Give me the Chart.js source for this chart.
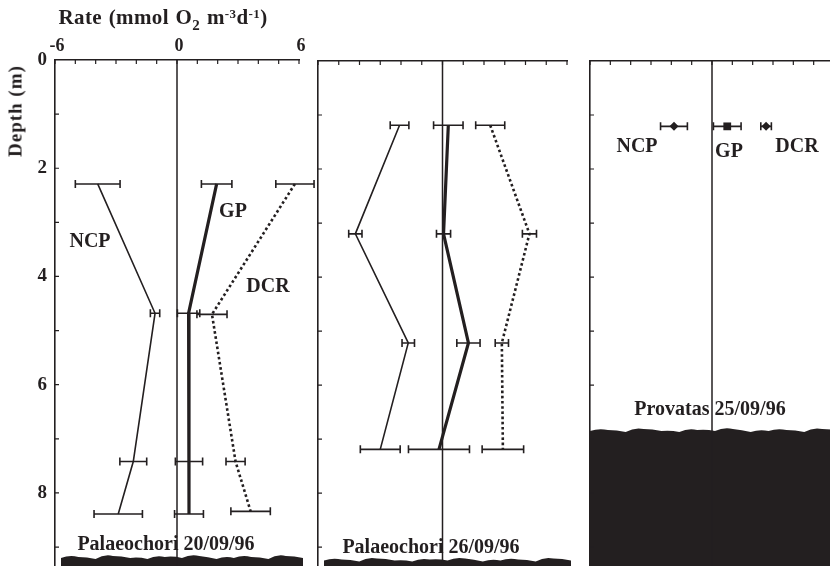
<!DOCTYPE html>
<html>
<head>
<meta charset="utf-8">
<script src="https://cdn.jsdelivr.net/npm/chart.js@4.4.0/dist/chart.umd.min.js"></script>
<style>
  body { margin: 0; width: 830px; height: 566px; overflow: hidden; background: #fff; position: relative;
         font-family: "Liberation Serif", serif; font-weight: bold; color: #231f20; }
  canvas { position: absolute; top: 0; }
  .lbl { position: absolute; font-size: 20px; line-height: 1; white-space: nowrap; transform: translate(-50%, -50%); }
  #title { font-size: 21px; letter-spacing: 0.4px; word-spacing: 1px; }
  #title sub { font-size: 15px; vertical-align: -6px; }
  #title sup { font-size: 13px; vertical-align: 6px; }
  #depth { font-size: 19px; letter-spacing: 1px; transform: translate(-50%, -50%) rotate(-90deg); }
</style>
</head>
<body>
<canvas id="p20" width="320" height="566" style="left:0px"></canvas>
<canvas id="p26" width="290" height="566" style="left:300px"></canvas>
<canvas id="prov" width="260" height="566" style="left:580px"></canvas>

<div class="lbl" id="title" style="left:163px; top:20px">Rate (mmol O<sub>2</sub> m<sup>-3</sup>d<sup>-1</sup>)</div>
<div class="lbl" id="depth" style="left:15px; top:111px">Depth (m)</div>

<div class="lbl" style="left:90px; top:240px">NCP</div>
<div class="lbl" style="left:233px; top:210px">GP</div>
<div class="lbl" style="left:268px; top:285px">DCR</div>
<div class="lbl" style="left:166px; top:543px">Palaeochori 20/09/96</div>

<div class="lbl" style="left:431px; top:546px">Palaeochori 26/09/96</div>

<div class="lbl" style="left:637px; top:145px">NCP</div>
<div class="lbl" style="left:729px; top:150px">GP</div>
<div class="lbl" style="left:797px; top:145px">DCR</div>
<div class="lbl" style="left:710px; top:408px">Provatas 25/09/96</div>

<script>
// Palaeochori 20/09/96
const depthP20 = [2.29, 4.68, 7.42, 8.39];
const ncpP20 = [-3.9, -1.08, -2.15, -2.89];
const ncpErrP20 = [1.1, 0.23, 0.66, 1.19];
const gpP20 = [1.95, 0.57, 0.59, 0.59];
const gpErrP20 = [0.75, 0.55, 0.67, 0.71];
const dcrDepthP20 = [2.29, 4.7, 7.42, 8.34];
const dcrP20 = [5.8, 1.72, 2.88, 3.62];
const dcrErrP20 = [0.94, 0.74, 0.47, 0.97];

// Palaeochori 26/09/96
const depthP26 = [1.19, 3.2, 5.22, 7.19];
const ncpP26 = [-2.07, -4.2, -1.65, -3.0];
const ncpErrP26 = [0.45, 0.32, 0.3, 0.96];
const gpP26 = [0.28, 0.05, 1.25, -0.17];
const gpErrP26 = [0.71, 0.34, 0.56, 1.47];
const dcrP26 = [2.3, 4.19, 2.86, 2.91];
const dcrErrP26 = [0.7, 0.34, 0.32, 1.0];

// Provatas 25/09/96
const depthProv = [1.21];
const ncpProv = [-1.87];
const ncpErrProv = [0.66];
const gpProv = [0.75];
const gpErrProv = [0.68];
const dcrProv = [2.66];
const dcrErrProv = [0.26];

// depth of the sea bottom at each station
const seabedP20 = 9.2;
const seabedP26 = 9.25;
const seabedProv = 6.85;

const rateTicks = [-6, 0, 6];
const depthTicks = [0, 2, 4, 6, 8];

const INK = "#231f20";
Chart.defaults.font.family = "'Liberation Serif', serif";
Chart.defaults.font.weight = "bold";
Chart.defaults.color = INK;

function points(xs, ys) {
  return xs.map((v, i) => ({ x: v, y: ys[i] }));
}

// small bumps for the sea bottom outline
const waveBumps = [0, -1, 1, -2, 0, 1, -1, 0, -2, 1, 0, -1, 1, -2, 0];

function drawSeabed(ctx, x0, x1, yTop, yBottom) {
  const n = waveBumps.length - 1;
  ctx.beginPath();
  ctx.moveTo(x0, yBottom);
  ctx.lineTo(x0, yTop + waveBumps[0]);
  for (let i = 1; i <= n; i++) {
    const xa = x0 + (x1 - x0) * (i - 1) / n;
    const xb = x0 + (x1 - x0) * i / n;
    ctx.quadraticCurveTo((xa + xb) / 2, yTop + waveBumps[i] - 2, xb, yTop + waveBumps[i]);
  }
  ctx.lineTo(x1, yBottom);
  ctx.closePath();
  ctx.fillStyle = INK;
  ctx.fill();
}

const panelDecor = {
  id: "panelDecor",
  beforeDatasetsDraw(chart, args, opts) {
    const { ctx, chartArea, scales } = chart;
    ctx.save();
    // sea bottom
    const yBed = scales.y.getPixelForValue(opts.seabed);
    const x1 = opts.fillRight ? chart.width : chartArea.right + 4;
    const x0 = opts.fillRight ? chartArea.left : chartArea.left + 6;
    drawSeabed(ctx, x0, x1, yBed, chart.height);
    // zero line
    const x0px = scales.x.getPixelForValue(0);
    ctx.strokeStyle = INK;
    ctx.lineWidth = 1.5;
    ctx.beginPath();
    ctx.moveTo(x0px, chartArea.top);
    ctx.lineTo(x0px, chart.height);
    ctx.stroke();
    ctx.restore();
  },
  afterDatasetsDraw(chart) {
    const { ctx, scales } = chart;
    ctx.save();
    ctx.strokeStyle = INK;
    ctx.lineWidth = 1.6;
    chart.data.datasets.forEach((ds) => {
      ds.data.forEach((p, i) => {
        const e = ds.errors[i];
        const xa = scales.x.getPixelForValue(p.x - e);
        const xb = scales.x.getPixelForValue(p.x + e);
        const y = scales.y.getPixelForValue(p.y);
        ctx.beginPath();
        ctx.moveTo(xa, y); ctx.lineTo(xb, y);
        ctx.moveTo(xa, y - 4); ctx.lineTo(xa, y + 4);
        ctx.moveTo(xb, y - 4); ctx.lineTo(xb, y + 4);
        ctx.stroke();
      });
    });
    ctx.restore();
  },
  afterDraw(chart) {
    // inward tick marks on the top and left axes
    const { ctx, chartArea, scales } = chart;
    ctx.save();
    ctx.strokeStyle = INK;
    ctx.lineWidth = 1.2;
    ctx.beginPath();
    for (let v = -6; v <= 6; v++) {
      const x = scales.x.getPixelForValue(v);
      ctx.moveTo(x, chartArea.top);
      ctx.lineTo(x, chartArea.top + 4);
    }
    for (let d = 1; d <= 9; d++) {
      const y = scales.y.getPixelForValue(d);
      ctx.moveTo(chartArea.left, y);
      ctx.lineTo(chartArea.left + 4, y);
    }
    ctx.stroke();
    ctx.restore();
  },
};

function makePanel(id, cfg) {
  const series = [
    { x: cfg.ncp, y: cfg.depth, err: cfg.ncpErr, width: 1.6, dash: [], style: "rectRot", r: 4.5 },
    { x: cfg.gp, y: cfg.depth, err: cfg.gpErr, width: 3.2, dash: [], style: "rect", r: 5.5 },
    { x: cfg.dcr, y: cfg.dcrDepth || cfg.depth, err: cfg.dcrErr, width: 2.6, dash: [2.6, 2.6], style: "rectRot", r: 4.5 },
  ];
  new Chart(document.getElementById(id), {
    type: "line",
    data: {
      datasets: series.map((s) => ({
        data: points(s.x, s.y),
        errors: s.err,
        borderColor: INK,
        backgroundColor: INK,
        borderWidth: s.width,
        borderDash: s.dash,
        pointRadius: cfg.markers ? s.r : 0,
        pointStyle: s.style,
        pointBorderWidth: 0,
        tension: 0,
      })),
    },
    options: {
      responsive: false,
      animation: false,
      events: [],
      layout: { autoPadding: false, padding: { left: 0, top: 0, bottom: 0, right: cfg.padRight } },
      plugins: {
        legend: { display: false },
        tooltip: { enabled: false },
        panelDecor: { seabed: cfg.seabed, fillRight: cfg.fillRight },
      },
      scales: {
        x: {
          type: "linear",
          position: "top",
          min: -6,
          max: 6,
          grid: { display: false, drawTicks: false },
          border: { color: INK, width: 1.6 },
          ticks: {
            display: cfg.labels,
            stepSize: 1,
            autoSkip: false,
            maxRotation: 0,
            padding: 3,
            labelOffset: 2,
            font: { size: 18 },
            callback: (v) => (rateTicks.includes(v) ? String(v) : ""),
          },
          afterFit: (s) => { s.height = cfg.top; s.paddingLeft = 0; s.paddingRight = 0; },
        },
        y: {
          type: "linear",
          reverse: true,
          min: 0,
          max: 9.35,
          grid: { display: false, drawTicks: false },
          border: { color: INK, width: 1.6 },
          ticks: {
            display: cfg.labels,
            stepSize: 1,
            autoSkip: false,
            padding: 8,
            font: { size: 19 },
            callback: (v) => (depthTicks.includes(v) ? String(v) : ""),
          },
          afterFit: (s) => { s.width = cfg.left; s.paddingTop = 0; s.paddingBottom = 0; },
        },
      },
    },
    plugins: [panelDecor],
  });
}

makePanel("p20", {
  depth: depthP20, dcrDepth: dcrDepthP20,
  ncp: ncpP20, ncpErr: ncpErrP20, gp: gpP20, gpErr: gpErrP20, dcr: dcrP20, dcrErr: dcrErrP20,
  seabed: seabedP20, fillRight: false, markers: false, labels: true,
  left: 55, top: 60, padRight: 21,
});

makePanel("p26", {
  depth: depthP26,
  ncp: ncpP26, ncpErr: ncpErrP26, gp: gpP26, gpErr: gpErrP26, dcr: dcrP26, dcrErr: dcrErrP26,
  seabed: seabedP26, fillRight: false, markers: false, labels: false,
  left: 18, top: 61, padRight: 23,
});

makePanel("prov", {
  depth: depthProv,
  ncp: ncpProv, ncpErr: ncpErrProv, gp: gpProv, gpErr: gpErrProv, dcr: dcrProv, dcrErr: dcrErrProv,
  seabed: seabedProv, fillRight: true, markers: true, labels: false,
  left: 10, top: 61, padRight: 6,
});
</script>
</body>
</html>
